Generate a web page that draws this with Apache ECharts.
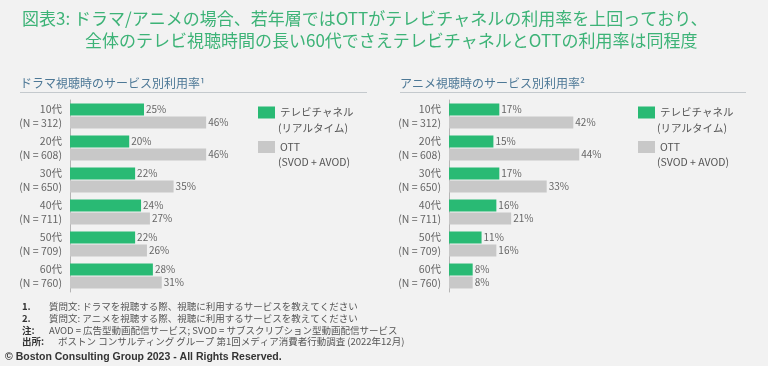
<!DOCTYPE html>
<html><head><meta charset="utf-8">
<script src="https://cdn.jsdelivr.net/npm/echarts@6/dist/echarts.min.js"></script>
<style>html,body{margin:0;padding:0;background:#f2f2f2;}#c{width:768px;height:366px;}</style>
</head><body><div id="c"></div>
<script>
const categories = ['10代','20代','30代','40代','50代','60代'];
const sampleSizes = ['312','608','650','711','709','760'];
const dramaTV = [25,20,22,24,22,28];
const dramaOTT = [46,46,35,27,26,31];
const animeTV = [17,15,17,16,11,8];
const animeOTT = [42,44,33,21,16,8];
const seriesNames = ['テレビチャネル','OTT'];
const seriesSubNames = ['(リアルタイム)','(SVOD + AVOD)'];
const titleLines = ['図表3: ドラマ/アニメの場合、若年層ではOTTがテレビチャネルの利用率を上回っており、','全体のテレビ視聴時間の長い60代でさえテレビチャネルとOTTの利用率は同程度'];
const panelTitles = ['ドラマ視聴時のサービス別利用率¹','アニメ視聴時のサービス別利用率²'];
const notes = [
  ['1.','質問文: ドラマを視聴する際、視聴に利用するサービスを教えてください'],
  ['2.','質問文: アニメを視聴する際、視聴に利用するサービスを教えてください'],
  ['注:','AVOD = 広告型動画配信サービス; SVOD = サブスクリプション型動画配信サービス']
];
const sourceLabel = '出所:';
const sourceText = 'ボストン コンサルティング グループ 第1回メディア消費者行動調査 (2022年12月)';
const copyright = '© Boston Consulting Group 2023 - All Rights Reserved.';

const GREEN = '#29ba74', GRAY = '#c8c8c8';
const JP = '"Noto Sans CJK JP","Noto Sans",sans-serif';
const chart = echarts.init(document.getElementById('c'));

const grids = [{left:70, top:100, width:296, height:192}, {left:449, top:100, width:296, height:192}];
function xAx(i){return {gridIndex:i, type:'value', min:0, max:100, show:false};}
function yAx(i){return {gridIndex:i, type:'category', data:categories, inverse:true,
  axisLine:{show:true, lineStyle:{color:'#b5b5b5', width:1}}, axisTick:{show:false},
  axisLabel:{margin:8, fontSize:10.5, lineHeight:13.5, color:'#666', fontFamily:JP, align:'right',
    formatter:(v,idx)=> v + '\n(N = ' + sampleSizes[idx] + ')'}};}
function bar(name, data, i, color){return {name, type:'bar', xAxisIndex:i, yAxisIndex:i, data,
  barWidth:12, barGap:'8%', itemStyle:{color},
  label:{show:true, position:'right', distance:2, formatter:'{c}%', fontSize:10, color:'#666', fontFamily:JP}};}

const g = [];
g.push({type:'line', shape:{x1:20,y1:92.5,x2:367,y2:92.5}, style:{stroke:'#c4c9cd', lineWidth:1}});
g.push({type:'line', shape:{x1:400,y1:92.5,x2:746,y2:92.5}, style:{stroke:'#c4c9cd', lineWidth:1}});
[278,657].forEach(x=>{
  g.push({type:'text', x:x, y:128.3, style:{text:seriesSubNames[0], fontSize:10.5, fontFamily:JP, fill:'#555', verticalAlign:'middle'}});
  g.push({type:'text', x:x, y:161.7, style:{text:seriesSubNames[1], fontSize:10.5, fontFamily:JP, fill:'#555', verticalAlign:'middle'}});
});
const noteY = [306.7, 318.3, 330];
notes.forEach((n,i)=>{
  g.push({type:'text', x:22, y:noteY[i], style:{text:n[0], fontSize:9.5, fontWeight:'bold', fontFamily:JP, fill:'#333', verticalAlign:'middle'}});
  g.push({type:'text', x:49, y:noteY[i], style:{text:n[1], fontSize:9.5, fontFamily:JP, fill:'#555', verticalAlign:'middle'}});
});
g.push({type:'text', x:22, y:341.7, style:{text:sourceLabel, fontSize:9.5, fontWeight:'bold', fontFamily:JP, fill:'#333', verticalAlign:'middle'}});
g.push({type:'text', x:58, y:341.7, style:{text:sourceText, fontSize:9.5, fontFamily:JP, fill:'#555', verticalAlign:'middle'}});
g.push({type:'text', x:5, y:356.7, style:{text:copyright, fontSize:10.5, fontWeight:'bold', fontFamily:'"Liberation Sans",Arial,sans-serif', fill:'#333', verticalAlign:'middle'}});

const legendCommon = {orient:'vertical', data:seriesNames, itemWidth:17, itemHeight:12, itemGap:22.5, padding:0,
  icon:'rect', selectedMode:false, textStyle:{fontSize:10.5, lineHeight:12, color:'#555', fontFamily:JP}};

const tStyle = (fs, lh, color) => ({fontSize:fs, lineHeight:lh, fontWeight:'normal', color, fontFamily:JP});
chart.setOption({
  backgroundColor:'#f2f2f2',
  animation:false,
  title:[
    {text:titleLines[0], left:22, top:9, padding:0, textStyle:tStyle(17,20,'#3db377')},
    {text:titleLines[1], left:85, top:31, padding:0, textStyle:tStyle(17,20,'#3db377')},
    {text:panelTitles[0], left:20, top:76, padding:0, textStyle:tStyle(12,14,'#4d7896')},
    {text:panelTitles[1], left:400, top:76, padding:0, textStyle:tStyle(12,14,'#4d7896')}
  ],
  legend:[Object.assign({left:258, top:106.5}, legendCommon), Object.assign({left:638, top:106.5}, legendCommon)],
  grid:grids,
  xAxis:[xAx(0), xAx(1)],
  yAxis:[yAx(0), yAx(1)],
  series:[bar(seriesNames[0], dramaTV, 0, GREEN), bar(seriesNames[1], dramaOTT, 0, GRAY),
          bar(seriesNames[0], animeTV, 1, GREEN), bar(seriesNames[1], animeOTT, 1, GRAY)],
  graphic:g
});
</script></body></html>
